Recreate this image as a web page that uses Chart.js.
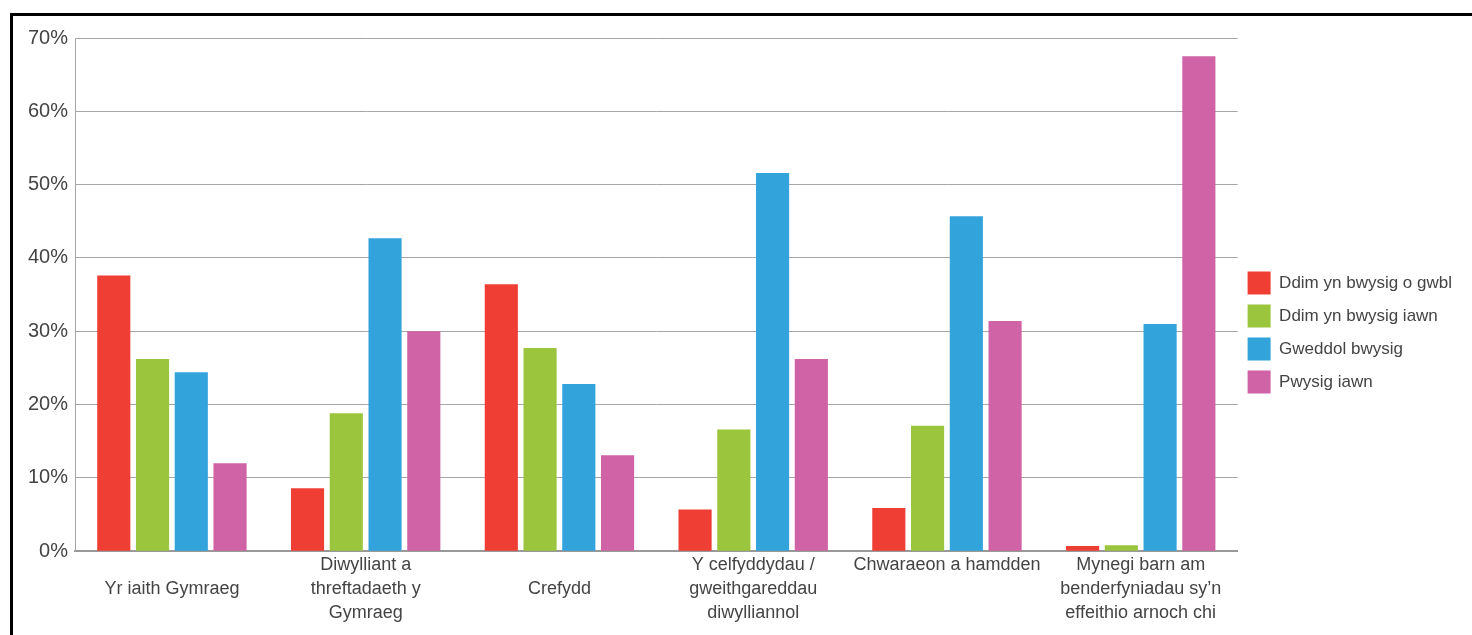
<!DOCTYPE html>
<html>
<head>
<meta charset="utf-8">
<script src="https://cdn.jsdelivr.net/npm/chart.js@4.4.0/dist/chart.umd.min.js"></script>
<style>
  html, body { margin: 0; padding: 0; background: #fff; }
  #wrap { position: absolute; left: 0; top: 0; width: 1472px; height: 635px; }
  #frame { position: absolute; left: 10px; top: 13px; width: 1480px; height: 640px;
           border-left: 3px solid #000; border-top: 3px solid #000; pointer-events: none; }
</style>
</head>
<body>
<div id="wrap"><canvas id="chart"></canvas></div>
<div id="frame"></div>
<script>
// categories (multi-line labels as in the original)
var categories = [
    ["", "Yr iaith Gymraeg"],
    ["Diwylliant a", "threftadaeth y", "Gymraeg"],
    ["", "Crefydd"],
    ["Y celfyddydau /", "gweithgareddau", "diwylliannol"],
    ["Chwaraeon a hamdden"],
    ["Mynegi barn am", "benderfyniadau sy\u2019n", "effeithio arnoch chi"]
];
var seriesNames = ["Ddim yn bwysig o gwbl", "Ddim yn bwysig iawn", "Gweddol bwysig", "Pwysig iawn"];
var ddimOGwbl   = [37.6, 8.6, 36.4, 5.7, 5.9, 0.7];
var ddimIawn    = [26.2, 18.8, 27.7, 16.6, 17.1, 0.8];
var gweddol     = [24.4, 42.7, 22.8, 51.6, 45.7, 31.0];
var pwysigIawn  = [12.0, 30.0, 13.1, 26.2, 31.4, 67.5];
var colours = ["#EF3E33", "#9BC53C", "#33A3DC", "#D062A6"];
var yTicks = [0, 10, 20, 30, 40, 50, 60, 70];

var values = [ddimOGwbl, ddimIawn, gweddol, pwysigIawn];
var datasets = [];
for (var i = 0; i < values.length; i++) {
    datasets.push({
        label: seriesNames[i],
        data: values[i],
        backgroundColor: colours[i],
        borderWidth: 0,
        categoryPercentage: 0.8,
        barPercentage: 0.855
    });
}

Chart.defaults.font.family = "'Liberation Sans', Arial, sans-serif";
Chart.defaults.color = "#444";

new Chart(document.getElementById("chart").getContext("2d"), {
    type: "bar",
    data: { labels: categories, datasets: datasets },
    options: {
        responsive: true,
        maintainAspectRatio: false,
        animation: false,
        layout: { padding: { left: 21, right: 10, top: 38, bottom: 8 } },
        plugins: {
            tooltip: { enabled: false },
            legend: {
                position: "right",
                labels: {
                    boxWidth: 23, boxHeight: 23, padding: 10,
                    font: { size: 17 }, color: "#444"
                }
            }
        },
        scales: {
            x: {
                grid: { display: false, drawTicks: false, tickLength: 0 },
                border: { color: "#999", width: 2 },
                ticks: { font: { size: 18, lineHeight: 1.33 }, color: "#444", padding: 2,
                         maxRotation: 0, autoSkip: false }
            },
            y: {
                min: 0, max: 70,
                afterBuildTicks: function (axis) { axis.ticks = yTicks.map(function (v) { return { value: v }; }); },
                grid: { color: "#a6a6a6", lineWidth: 1, drawTicks: false },
                border: { color: "#a6a6a6", width: 1 },
                ticks: { font: { size: 20 }, color: "#444", padding: 7,
                         callback: function (v) { return v + "%"; } }
            }
        }
    }
});
</script>
</body>
</html>
